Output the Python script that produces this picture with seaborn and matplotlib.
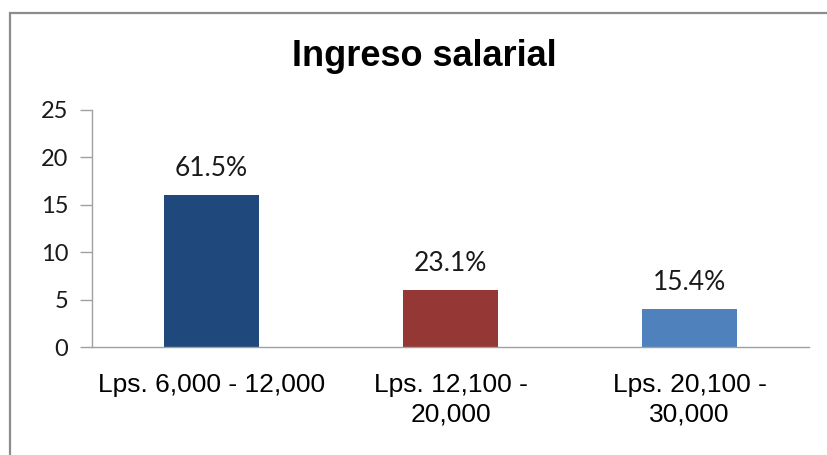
import matplotlib
matplotlib.use("Agg")
import matplotlib.pyplot as plt
import seaborn as sns
import pandas as pd
from matplotlib.patches import Rectangle

categories = ["Lps. 6,000 - 12,000", "Lps. 12,100 -\n20,000", "Lps. 20,100 -\n30,000"]
values = [16, 6, 4]
labels = ["61.5%", "23.1%", "15.4%"]
colors = ["#1F497D", "#953735", "#4F81BD"]
yticks = [0, 5, 10, 15, 20, 25]
title = "Ingreso salarial"

sns.set_theme(style="white")
plt.rcParams["font.family"] = ["Lato", "DejaVu Sans"]

df = pd.DataFrame({"cat": categories, "val": values})

fig = plt.figure(figsize=(8.27, 4.55), dpi=100)
ax = fig.add_axes([92 / 827, 1 - 347 / 455, (809 - 92) / 827, (347 - 110) / 455])

sns.barplot(data=df, x="cat", y="val", hue="cat", palette=colors, legend=False,
            width=0.4, ax=ax, saturation=1, edgecolor="none")

ax.set_xlim(-0.5, 2.5)
ax.set_ylim(0, 25)
ax.set_yticks(yticks)
ax.set_yticklabels([str(t) for t in yticks], fontsize=17, color="#1a1a1a")
ax.set_xlabel("")
ax.set_ylabel("")

ax.set_xticks(range(len(categories)))
ax.set_xticklabels(categories, fontsize=19, color="black",
                   family=["Liberation Sans", "DejaVu Sans"],
                   linespacing=1.25)
ax.tick_params(axis="x", which="major", length=0, pad=19)
ax.set_xticks([-0.5, 0.5, 1.5, 2.5], minor=True)
ax.tick_params(axis="x", which="minor", length=9, width=1, color="#A0A0A0", direction="out")
ax.tick_params(axis="y", length=9, width=1, color="#A0A0A0", direction="out", left=True, pad=8)

for s in ["top", "right"]:
    ax.spines[s].set_visible(False)
for s in ["left", "bottom"]:
    ax.spines[s].set_color("#A0A0A0")
    ax.spines[s].set_linewidth(1)

for i, (v, lab) in enumerate(zip(values, labels)):
    ax.annotate(lab, (i, v), xytext=(0, 10), textcoords="offset points",
                ha="center", va="bottom", fontsize=19, color="#1a1a1a")

fig.text(424 / 827, 1 - 57 / 455, title, ha="center", va="center", fontsize=26,
         fontweight="bold", color="black", family=["Liberation Sans", "DejaVu Sans"])

frame = Rectangle((9.5 / 827, -0.1), 1.2, (455 - 13) / 455 + 0.1, transform=fig.transFigure,
                  fill=False, edgecolor="#8C8C8C", linewidth=1.6, zorder=10)
fig.patches.append(frame)

fig.savefig("out.png", dpi=100)
